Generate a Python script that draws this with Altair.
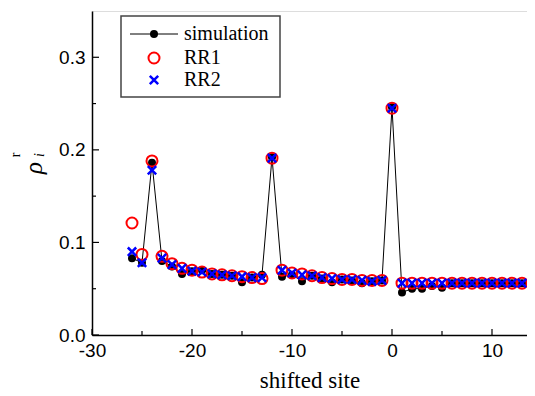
import altair as alt
import pandas as pd

# ---- data ----
sites = list(range(-26, 16))
simulation = [0.083, 0.078, 0.186, 0.080, 0.074, 0.066, 0.069, 0.070, 0.066, 0.065,
              0.064, 0.057, 0.062, 0.065, 0.192, 0.063, 0.065, 0.058, 0.064, 0.061,
              0.057, 0.060, 0.059, 0.056, 0.058, 0.059, 0.246, 0.046, 0.050, 0.050,
              0.053, 0.051, 0.056, 0.056, 0.056, 0.056, 0.056, 0.056, 0.056, 0.056,
              0.056, 0.056]
rr1 = [0.121, 0.087, 0.188, 0.085, 0.077, 0.072, 0.070, 0.068, 0.066, 0.065,
       0.064, 0.063, 0.062, 0.061, 0.191, 0.070, 0.067, 0.066, 0.064, 0.062,
       0.061, 0.060, 0.060, 0.059, 0.059, 0.059, 0.245, 0.056, 0.056, 0.056,
       0.056, 0.056, 0.056, 0.056, 0.056, 0.056, 0.056, 0.056, 0.056, 0.056,
       0.056, 0.056]
rr2 = [0.090, 0.078, 0.178, 0.083, 0.076, 0.072, 0.069, 0.068, 0.066, 0.065,
       0.064, 0.063, 0.062, 0.062, 0.191, 0.070, 0.067, 0.065, 0.064, 0.062,
       0.061, 0.060, 0.060, 0.059, 0.058, 0.059, 0.245, 0.056, 0.056, 0.056,
       0.056, 0.056, 0.056, 0.056, 0.056, 0.056, 0.056, 0.056, 0.056, 0.056,
       0.056, 0.056]

x_major = [-30, -20, -10, 0, 10]
x_minor = [-25, -15, -5, 5]
y_major = [0.0, 0.1, 0.2, 0.3]
y_minor = [0.05, 0.15, 0.25]
legend_labels = ["simulation", "RR1", "RR2"]

W, H = 435, 324
SERIF = "Liberation Serif"
SANS = "Liberation Sans"

df = pd.DataFrame({"site": sites, "sim": simulation, "rr1": rr1, "rr2": rr2})

xscale = alt.Scale(domain=[-30, 13.5], nice=False, zero=False)
yscale = alt.Scale(domain=[0, 0.35], nice=False)
xaxis = alt.Axis(values=x_major, labelExpr="'' + datum.value", ticks=False, grid=False,
                 domainColor="black", domainWidth=1.5, labelFont=SANS, labelFontSize=19,
                 labelColor="black", labelPadding=6, title=None, labelFlush=False)
yaxis = alt.Axis(values=y_major, format=".1f", ticks=False, grid=False, domainColor="black",
                 domainWidth=1.5, labelFont=SANS, labelFontSize=19, labelColor="black",
                 labelPadding=7, title=None)

X = lambda f: alt.X(f, type="quantitative", scale=xscale, axis=xaxis)
Y = lambda f: alt.Y(f, type="quantitative", scale=yscale, axis=yaxis)

base = alt.Chart(df)
line = base.mark_line(color="black", strokeWidth=1, clip=True).encode(x=X("site"), y=Y("sim"))
dots = base.mark_point(shape="circle", filled=True, color="black", size=64, opacity=1, clip=True).encode(
    x=X("site"), y=Y("sim"))
circ = base.mark_point(shape="circle", filled=False, color="#ff0000", size=121, strokeWidth=2,
                       opacity=1, clip=True).encode(x=X("site"), y=Y("rr1"))
xs = base.mark_point(shape="M-1,-1L1,1M-1,1L1,-1", filled=False, color="#0000ff", size=70,
                     strokeWidth=2.5, opacity=1, clip=True).encode(x=X("site"), y=Y("rr2"))

# inward ticks
xmaj = alt.Chart(pd.DataFrame({"v": x_major})).mark_rule(color="black", strokeWidth=1.2).encode(
    x=X("v"), y=alt.value(H), y2=alt.value(H - 6))
xmin = alt.Chart(pd.DataFrame({"v": x_minor})).mark_rule(color="black", strokeWidth=1.2).encode(
    x=X("v"), y=alt.value(H), y2=alt.value(H - 4))
ymaj = alt.Chart(pd.DataFrame({"v": y_major})).mark_rule(color="black", strokeWidth=1.2).encode(
    y=Y("v"), x=alt.value(0), x2=alt.value(7))
ymin = alt.Chart(pd.DataFrame({"v": y_minor})).mark_rule(color="black", strokeWidth=1.2).encode(
    y=Y("v"), x=alt.value(0), x2=alt.value(4))

one = pd.DataFrame({"a": [0]})
# axis titles
xtitle = alt.Chart(one).mark_text(text="shifted site", font=SERIF, fontSize=23, color="black",
                                  align="center", baseline="alphabetic").encode(
    x=alt.value(218), y=alt.value(377))
rho = alt.Chart(one).mark_text(text="ρ", font=SERIF, fontSize=25, fontStyle="italic", color="black",
                               angle=270, align="center", baseline="middle").encode(
    x=alt.value(-58), y=alt.value(157))
rsup = alt.Chart(one).mark_text(text="r", font=SERIF, fontSize=14, color="black",
                                angle=270, align="center", baseline="middle").encode(
    x=alt.value(-76), y=alt.value(144))
isub = alt.Chart(one).mark_text(text="i", font=SERIF, fontSize=14, fontStyle="italic", color="black",
                                angle=270, align="center", baseline="middle").encode(
    x=alt.value(-52), y=alt.value(144))

# legend
lbox = alt.Chart(one).mark_rect(fill="white", stroke="#444444", strokeWidth=1.5).encode(
    x=alt.value(29), x2=alt.value(188), y=alt.value(5), y2=alt.value(86))
lline = alt.Chart(one).mark_rule(color="black", strokeWidth=1).encode(
    x=alt.value(38), x2=alt.value(86), y=alt.value(23))
ldot = alt.Chart(one).mark_point(shape="circle", filled=True, color="black", size=64, opacity=1).encode(
    x=alt.value(62), y=alt.value(23))
lcirc = alt.Chart(one).mark_point(shape="circle", filled=False, color="#ff0000", size=121,
                                  strokeWidth=2, opacity=1).encode(x=alt.value(62), y=alt.value(47))
lx = alt.Chart(one).mark_point(shape="M-1,-1L1,1M-1,1L1,-1", filled=False, color="#0000ff", size=70,
                               strokeWidth=2.5, opacity=1).encode(x=alt.value(62), y=alt.value(69))
ltexts = []
for lab, yy in zip(legend_labels, [23, 47, 69]):
    ltexts.append(alt.Chart(one).mark_text(text=lab, font=SERIF, fontSize=20, color="black",
                                           align="left", baseline="middle").encode(
        x=alt.value(92), y=alt.value(yy)))

chart = alt.layer(
    line, dots, circ, xs, xmaj, xmin, ymaj, ymin, xtitle, rho, rsup, isub,
    lbox, lline, ldot, lcirc, lx, *ltexts
).properties(
    width=W, height=H,
    padding={"left": 84, "top": 3, "right": 0, "bottom": 58},
    autosize=alt.AutoSizeParams(type="none"),
).configure_view(stroke=None).configure(background="white")

chart.save("out.html", embed_options={"renderer": "svg", "actions": False})
